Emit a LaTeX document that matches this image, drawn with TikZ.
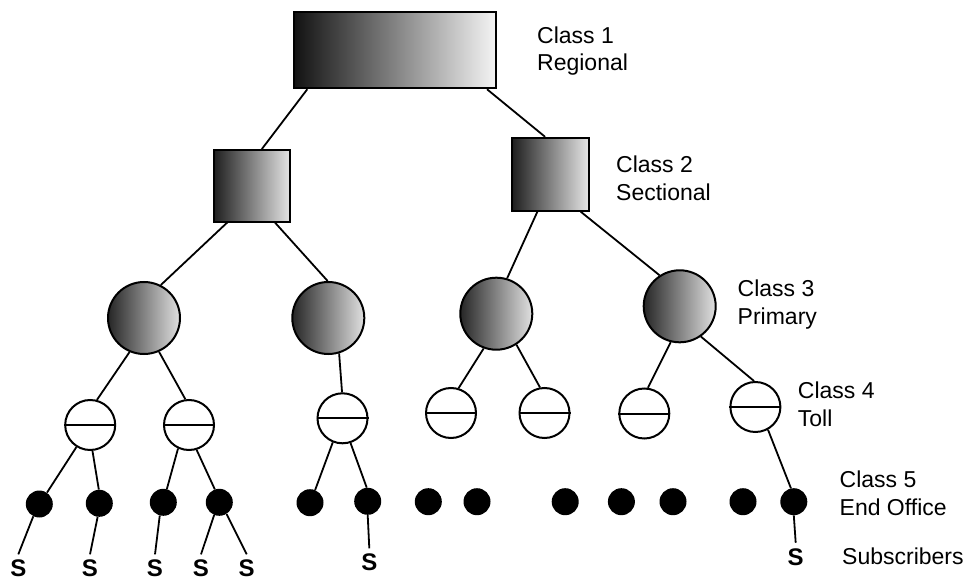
\documentclass[tikz,border=0pt]{standalone}
\usepackage{fontspec}
\setmainfont{Liberation Sans}
\begin{document}
\begin{tikzpicture}[x=1pt,y=-1pt,
  conn/.style={line width=1.8pt},
  regbox/.style={rectangle, draw, line width=1.8pt, inner sep=0, minimum width=202.6pt, minimum height=76.3pt, left color=black!93, right color=black!4},
  secbox/.style={rectangle, draw, line width=1.8pt, inner sep=0, minimum width=76.7pt, left color=black!88, right color=black!10},
  prim/.style={circle, draw, line width=2pt, inner sep=0, minimum size=72pt, left color=black!85, right color=black!12},
  toll/.style={circle, draw, line width=2pt, fill=white, inner sep=0, minimum size=50pt},
  eo/.style={circle, fill=black, inner sep=0, minimum size=27pt},
  lbl/.style={anchor=base west, inner sep=0, font=\fontsize{23}{27}\selectfont},
  sub/.style={anchor=base, inner xsep=0pt, inner ysep=5.5pt, font=\fontsize{24}{28}\selectfont\bfseries},
]
\useasboundingbox[fill=white] (0,0) rectangle (969,580);

% Class 1
\node[regbox] (R) at (395,50.2) {};
% Class 2
\node[secbox, minimum height=71.7pt] (SL) at (252,185.8) {};
\node[secbox, minimum height=73pt] (SR) at (550.3,174.2) {};
% Class 3
\node[prim] (A) at (144,318) {};
\node[prim] (B) at (328.3,318) {};
\node[prim] (C) at (496.3,313.7) {};
\node[prim] (D) at (679.7,306.3) {};
% Class 4
\node[toll] (T1) at (90.2,425) {};
\node[toll] (T2) at (189,425) {};
\node[toll] (T3) at (342.5,418.3) {};
\node[toll] (T4) at (451,413) {};
\node[toll] (T5) at (544.5,413) {};
\node[toll] (T6) at (644.3,413.5) {};
\node[toll] (T7) at (755.4,407) {};
\foreach \t in {T1,T2,T3,T4,T5,T6,T7}
  \draw[line width=2pt] (\t.west) -- (\t.east);
% Class 5
\node[eo] (d1) at (39.3,504) {};
\node[eo] (d2) at (99.3,503.3) {};
\node[eo] (d3) at (163.3,502.3) {};
\node[eo] (d4) at (219.3,502.3) {};
\node[eo] (d5) at (310,502.7) {};
\node[eo] (d6) at (367.7,501.3) {};
\node[eo] (d7) at (428.3,501.7) {};
\node[eo] (d8) at (477,501.7) {};
\node[eo] (d9) at (565.2,501.7) {};
\node[eo] (d10) at (621.4,501.7) {};
\node[eo] (d11) at (673,501.7) {};
\node[eo] (d12) at (743,501.7) {};
\node[eo] (d13) at (793.8,501.7) {};
% Subscribers
\node[sub] (s1) at (18.3,576.8) {S};
\node[sub] (s2) at (90,576.8) {S};
\node[sub] (s3) at (155,576.8) {S};
\node[sub] (s4) at (201,576.8) {S};
\node[sub] (s5) at (246.7,576.8) {S};
\node[sub] (s6) at (369.3,570.8) {S};
\node[sub] (s7) at (795.7,565.2) {S};

% connectors
\draw[conn] (R.204) -- (SL.75.7);
\draw[conn] (R.337) -- (SR.98);
\draw[conn] (SL.236.8) -- (A.63.9);
\draw[conn] (SL.302.8) -- (B.91);
\draw[conn] (SR.251.4) -- (C.73);
\draw[conn] (SR.309.3) -- (D.123.5);
\draw[conn] (A.247) -- (T1.75);
\draw[conn] (A.294) -- (T2.98.8);
\draw[conn] (B.287) -- (T3.91.8);
\draw[conn] (C.250) -- (T4.73.5);
\draw[conn] (C.303.3) -- (T5.100);
\draw[conn] (D.256) -- (T6.82.3);
\draw[conn] (D.305.3) -- (T7.93);
\draw[conn] (T1.238) -- (d1.56.8);
\draw[conn] (T1.275.5) -- (d2.92.6);
\draw[conn] (T2.245.7) -- (d3.75.3);
\draw[conn] (T2.287.1) -- (d4.109.7);
\draw[conn] (T3.248.4) -- (d5.68.5);
\draw[conn] (T3.288.3) -- (d6.94.4);
\draw[conn] (T7.299.7) -- (d13.102);
\draw[conn] (d1.244.7) -- (s1.north);
\draw[conn] (d2.263.2) -- (s2.north);
\draw[conn] (d3.255.4) -- (s3.north);
\draw[conn] (d4.248.5) -- (s4.north);
\draw[conn] (d4.302.3) -- (s5.north);
\draw[conn] (d6.south) -- (s6.north);
\draw[conn] (d13.south) -- (s7.north);

% labels
\node[lbl] (l1a) at (537,43.3) {Class 1};
\node[lbl] (l1b) at (537,71) {Regional};
\node[lbl] (l2a) at (616,172.7) {Class 2};
\node[lbl] (l2b) at (616,201) {Sectional};
\node[lbl] (l3a) at (737.5,296.7) {Class 3};
\node[lbl] (l3b) at (737.5,324.3) {Primary};
\node[lbl] (l4a) at (797.7,398.3) {Class 4};
\node[lbl] (l4b) at (797.7,426.7) {Toll};
\node[lbl] (l5a) at (839.5,487) {Class 5};
\node[lbl] (l5b) at (839.5,515.3) {End Office};
\node[lbl] (l6) at (842,564.7) {Subscribers};
\end{tikzpicture}
\end{document}
